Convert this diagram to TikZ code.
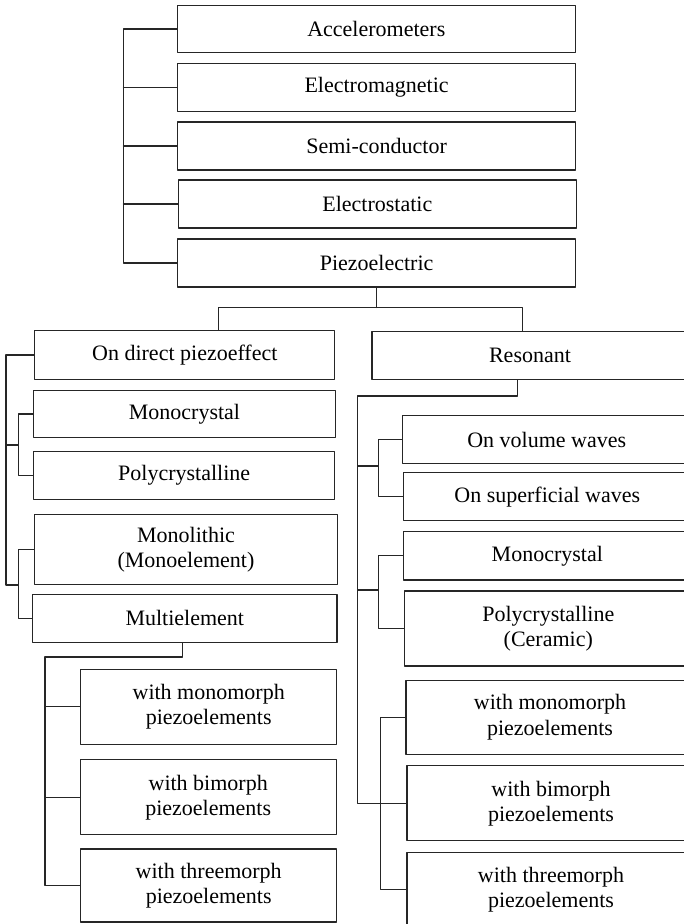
\documentclass[tikz,border=0pt]{standalone}
\usepackage{fontspec}
\setmainfont{Liberation Serif}
\usetikzlibrary{positioning}

\tikzset{
  box/.style={draw=black!85,line width=1.1pt,inner sep=0pt,align=center,
    font=\fontsize{22}{25}\selectfont},
  link/.style={draw=black!85,line width=1.1pt}
}

\begin{document}
\begin{tikzpicture}[line cap=round,line join=round,x=1pt,y=-1pt]
		\useasboundingbox (0,0) rectangle (684,924);
		\clip (0,0) rectangle (684,924);
		% sensor types
		\node[box,minimum width=398,minimum height=46.6] (acc) at (376.3,29) {Accelerometers};
		\node[box,minimum width=398,minimum height=48] (em) at (376.6,87.5) {Electromagnetic};
		\node[box,minimum width=398,minimum height=48] (semi) at (376.6,146) {Semi-conductor};
		\node[box,minimum width=398,minimum height=48] (estat) at (377.3,204) {Electrostatic};
		\node[box,minimum width=398,minimum height=48] (piezo) at (376.6,263) {Piezoelectric};
		\coordinate (tb) at (123.3,263);
		\draw[link] (acc.west) -| (tb) -- (piezo.west);
		\foreach \n in {em,semi,estat}
			\draw[link] (\n.west) -- (\n.west -| tb);
		% piezoelectric split
		\node[box,minimum width=300,minimum height=48.3] (direct) at (184.8,355) {On direct piezoeffect};
		\node[box,minimum width=316,minimum height=48.3] (reso) at (530,355.2) {Resonant};
		\coordinate (split) at (376.6,307.5);
		\draw[link] (piezo.south) -- (split);
		\draw[link] ([xshift=33.5]direct.north) |- (split) -| ([xshift=-7.3]reso.north);
		% direct piezoeffect branch
		\node[box,minimum width=302,minimum height=47.4] (lmono) at (184.5,414) {Monocrystal};
		\node[box,minimum width=301,minimum height=48] (lpoly) at (184.2,475.7) {Polycrystalline};
		\node[box,minimum width=302.6,minimum height=70.4] (lmonolith) at (186,549.5) {Monolithic\\(Monoelement)};
		\node[box,minimum width=304.3,minimum height=48.3] (lmulti) at (184.8,618.2) {Multielement};
		\coordinate (lj1) at (18.3,445);
		\coordinate (lj2) at (18.3,585);
		\draw[link] (lmono.west) -| (lj1) |- (lpoly.west);
		\draw[link] (lmonolith.west) -| (lj2) |- (lmulti.west);
		\draw[link] (direct.west) -| ([xshift=-12.3]lj2) -- (lj2);
		\draw[link] ([xshift=-12.3]lj1) -- (lj1);
		% multielement
		\node[box,minimum width=256,minimum height=74.7] (lmonom) at (208.7,706.7) {with monomorph\\piezoelements};
		\node[box,minimum width=255.7,minimum height=75] (lbim) at (208.2,797.2) {with bimorph\\piezoelements};
		\node[box,minimum width=256,minimum height=73] (lthree) at (208.7,885.5) {with threemorph\\piezoelements};
		\coordinate (lm) at (45,657);
		\draw[link] ([xshift=-2.3]lmulti.south) |- (lm) |- (lthree.west);
		\draw[link] (lmonom.west) -- (lmonom.west -| lm);
		\draw[link] (lbim.west) -- (lbim.west -| lm);
		% resonant branch
		\node[box,minimum width=288,minimum height=48] (rvol) at (546.7,439.7) {On volume waves};
		\node[box,minimum width=288,minimum height=48] (rsup) at (547.3,496.7) {On superficial waves};
		\node[box,minimum width=288,minimum height=48.3] (rmono) at (547.3,555.8) {Monocrystal};
		\node[box,minimum width=288,minimum height=75] (rpoly) at (548.3,628.5) {Polycrystalline\\(Ceramic)};
		\node[box,minimum width=288,minimum height=74.3] (rmonom) at (550,717.2) {with monomorph\\piezoelements};
		\node[box,minimum width=288,minimum height=75] (rbim) at (551,803.2) {with bimorph\\piezoelements};
		\node[box,minimum width=288,minimum height=75] (rthree) at (551,889.8) {with threemorph\\piezoelements};
		\coordinate (rm) at (357.7,396);
		\draw[link] ([xshift=-12.7]reso.south) |- (rm) |- (rbim.west);
		\coordinate (rj1) at (378.3,466);
		\coordinate (rj2) at (378.3,590);
		\coordinate (rj3) at (380.3,803.2);
		\draw[link] (rvol.west) -| (rj1) |- (rsup.west);
		\draw[link] (rj1) -- (rj1 -| rm);
		\draw[link] (rmono.west) -| (rj2) |- (rpoly.west);
		\draw[link] (rj2) -- (rj2 -| rm);
		\draw[link] (rmonom.west) -| (rj3) |- (rthree.west);
	\end{tikzpicture}
\end{document}
